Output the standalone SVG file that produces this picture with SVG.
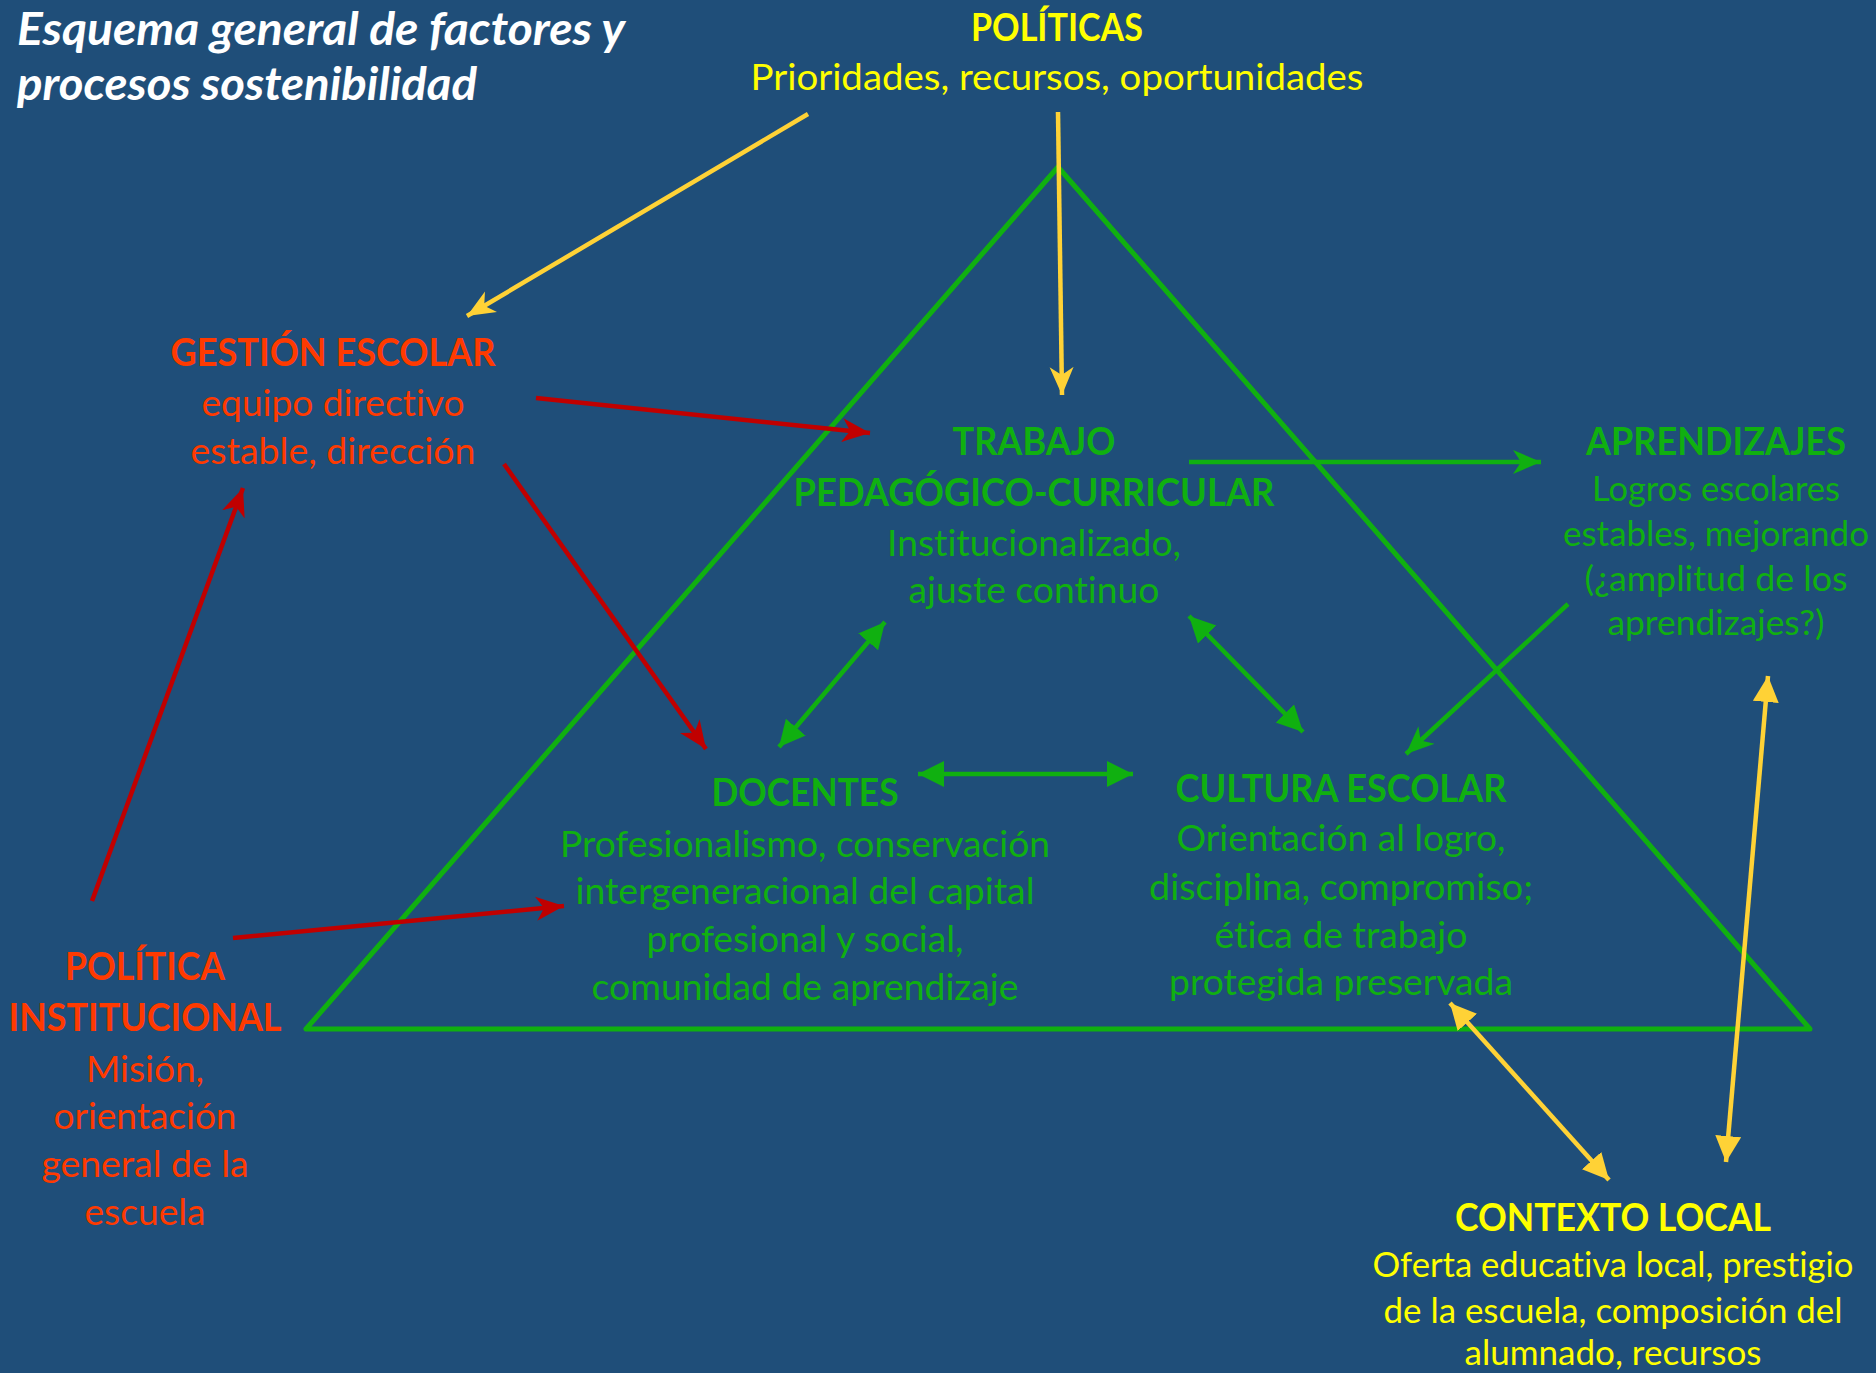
<svg xmlns="http://www.w3.org/2000/svg" width="1876" height="1373" viewBox="0 0 1876 1373">
<style>
text{font-family:Lato,"Open Sans","Liberation Sans",sans-serif;text-anchor:middle;font-variant-ligatures:none}
.h{font-weight:bold;font-size:38px}
.b{font-size:37px}
.s{font-size:34px}
.y{fill:#FFFF00}
.r{fill:#FF3A00}
.g{fill:#10B010}
.title{fill:#FFFFFF;font-weight:bold;font-style:italic;font-size:45px;text-anchor:start}
.cy{stroke:#FFD236;stroke-width:4.5;fill:none}
.cr{stroke:#C00000;stroke-width:4.5;fill:none}
.cg{stroke:#10B010;stroke-width:4.5;fill:none}
</style>
<defs>
<marker id="ay" markerUnits="userSpaceOnUse" markerWidth="30" markerHeight="26" refX="28" refY="12" orient="auto" viewBox="0 0 30 24"><path d="M0,0 L28,12 L0,24 L8,12 z" fill="#FFD236"/></marker>
<marker id="ar" markerUnits="userSpaceOnUse" markerWidth="30" markerHeight="26" refX="28" refY="12" orient="auto" viewBox="0 0 30 24"><path d="M0,0 L28,12 L0,24 L8,12 z" fill="#C00000"/></marker>
<marker id="ag" markerUnits="userSpaceOnUse" markerWidth="30" markerHeight="26" refX="28" refY="12" orient="auto" viewBox="0 0 30 24"><path d="M0,0 L28,12 L0,24 L8,12 z" fill="#10B010"/></marker>
<marker id="tg" markerUnits="userSpaceOnUse" markerWidth="27" markerHeight="27" refX="26" refY="13" orient="auto-start-reverse" viewBox="0 0 27 27"><path d="M0,0 L26,13 L0,26 z" fill="#10B010"/></marker>
<marker id="ty" markerUnits="userSpaceOnUse" markerWidth="27" markerHeight="27" refX="26" refY="13" orient="auto-start-reverse" viewBox="0 0 27 27"><path d="M0,0 L26,13 L0,26 z" fill="#FFD236"/></marker>
</defs>
<rect x="0" y="0" width="1876" height="1373" fill="#1F4E79"/>
<polygon id="triangulo" points="1058,167 306,1029 1810,1029" fill="none" stroke="#10B010" stroke-width="5" stroke-linejoin="round"/>

<g id="titulo">
<text class="title" x="17" y="45" textLength="608" lengthAdjust="spacingAndGlyphs">Esquema general de factores y</text>
<text class="title" x="17" y="100" textLength="460" lengthAdjust="spacingAndGlyphs">procesos sostenibilidad</text>
</g>

<g id="politicas">
<text class="h y" x="1057" y="41" textLength="172" lengthAdjust="spacingAndGlyphs">POLÍTICAS</text>
<text class="b y" x="1057" y="90" textLength="613" lengthAdjust="spacingAndGlyphs">Prioridades, recursos, oportunidades</text>
</g>

<g id="gestion">
<text class="h r" x="333" y="366" textLength="325" lengthAdjust="spacingAndGlyphs">GESTIÓN ESCOLAR</text>
<text class="b r" x="333" y="416" textLength="263" lengthAdjust="spacingAndGlyphs">equipo directivo</text>
<text class="b r" x="333" y="464" textLength="285" lengthAdjust="spacingAndGlyphs">estable, dirección</text>
</g>

<g id="trabajo">
<text class="h g" x="1034" y="455" textLength="163" lengthAdjust="spacingAndGlyphs">TRABAJO</text>
<text class="h g" x="1034" y="506" textLength="481" lengthAdjust="spacingAndGlyphs">PEDAGÓGICO-CURRICULAR</text>
<text class="b g" x="1034" y="556" textLength="294" lengthAdjust="spacingAndGlyphs">Institucionalizado,</text>
<text class="b g" x="1034" y="603" textLength="251" lengthAdjust="spacingAndGlyphs">ajuste continuo</text>
</g>

<g id="aprendizajes">
<text class="h g" x="1716" y="455" textLength="260" lengthAdjust="spacingAndGlyphs">APRENDIZAJES</text>
<text class="s g" x="1716" y="501" textLength="248" lengthAdjust="spacingAndGlyphs">Logros escolares</text>
<text class="s g" x="1716" y="546" textLength="306" lengthAdjust="spacingAndGlyphs">estables, mejorando</text>
<text class="s g" x="1716" y="591" textLength="263" lengthAdjust="spacingAndGlyphs">(¿amplitud de los</text>
<text class="s g" x="1716" y="635" textLength="217" lengthAdjust="spacingAndGlyphs">aprendizajes?)</text>
</g>

<g id="docentes">
<text class="h g" x="805" y="806" textLength="187" lengthAdjust="spacingAndGlyphs">DOCENTES</text>
<text class="b g" x="805" y="857" textLength="490" lengthAdjust="spacingAndGlyphs">Profesionalismo, conservación</text>
<text class="b g" x="805" y="904" textLength="459" lengthAdjust="spacingAndGlyphs">intergeneracional del capital</text>
<text class="b g" x="805" y="952" textLength="317" lengthAdjust="spacingAndGlyphs">profesional y social,</text>
<text class="b g" x="805" y="1000" textLength="427" lengthAdjust="spacingAndGlyphs">comunidad de aprendizaje</text>
</g>

<g id="cultura">
<text class="h g" x="1341" y="802" textLength="331" lengthAdjust="spacingAndGlyphs">CULTURA ESCOLAR</text>
<text class="b g" x="1341" y="851" textLength="329" lengthAdjust="spacingAndGlyphs">Orientación al logro,</text>
<text class="b g" x="1341" y="900" textLength="384" lengthAdjust="spacingAndGlyphs">disciplina, compromiso;</text>
<text class="b g" x="1341" y="948" textLength="253" lengthAdjust="spacingAndGlyphs">ética de trabajo</text>
<text class="b g" x="1341" y="995" textLength="344" lengthAdjust="spacingAndGlyphs">protegida preservada</text>
</g>

<g id="politica-institucional">
<text class="h r" x="145" y="980" textLength="160" lengthAdjust="spacingAndGlyphs">POLÍTICA</text>
<text class="h r" x="145" y="1031" textLength="273" lengthAdjust="spacingAndGlyphs">INSTITUCIONAL</text>
<text class="b r" x="145" y="1082" textLength="118" lengthAdjust="spacingAndGlyphs">Misión,</text>
<text class="b r" x="145" y="1129" textLength="183" lengthAdjust="spacingAndGlyphs">orientación</text>
<text class="b r" x="145" y="1177" textLength="207" lengthAdjust="spacingAndGlyphs">general de la</text>
<text class="b r" x="145" y="1225" textLength="121" lengthAdjust="spacingAndGlyphs">escuela</text>
</g>

<g id="contexto-local">
<text class="h y" x="1613" y="1231" textLength="316" lengthAdjust="spacingAndGlyphs">CONTEXTO LOCAL</text>
<text class="s y" x="1613" y="1277" textLength="481" lengthAdjust="spacingAndGlyphs">Oferta educativa local, prestigio</text>
<text class="s y" x="1613" y="1323" textLength="459" lengthAdjust="spacingAndGlyphs">de la escuela, composición del</text>
<text class="s y" x="1613" y="1365" textLength="297" lengthAdjust="spacingAndGlyphs">alumnado, recursos</text>
</g>

<g id="conectores">
<line class="cy" x1="808" y1="114" x2="467" y2="316" marker-end="url(#ay)"/>
<line class="cy" x1="1058" y1="112" x2="1062" y2="395" marker-end="url(#ay)"/>
<line class="cr" x1="536" y1="398" x2="870" y2="433" marker-end="url(#ar)"/>
<line class="cr" x1="504" y1="464" x2="706" y2="749" marker-end="url(#ar)"/>
<line class="cr" x1="92" y1="901" x2="243" y2="488" marker-end="url(#ar)"/>
<line class="cr" x1="233" y1="938" x2="564" y2="906" marker-end="url(#ar)"/>
<line class="cg" x1="1189" y1="462" x2="1541" y2="462" marker-end="url(#ag)"/>
<line class="cg" x1="1568" y1="604" x2="1406" y2="754" marker-end="url(#ag)"/>
<line class="cg" x1="885" y1="622" x2="779" y2="747" marker-start="url(#tg)" marker-end="url(#tg)"/>
<line class="cg" x1="1189" y1="616" x2="1303" y2="732" marker-start="url(#tg)" marker-end="url(#tg)"/>
<line class="cg" x1="918" y1="774" x2="1133" y2="774" marker-start="url(#tg)" marker-end="url(#tg)"/>
<line class="cy" x1="1450" y1="1003" x2="1609" y2="1180" marker-start="url(#ty)" marker-end="url(#ty)"/>
<line class="cy" x1="1768" y1="676" x2="1726" y2="1162" marker-start="url(#ty)" marker-end="url(#ty)"/>
</g>
</svg>
